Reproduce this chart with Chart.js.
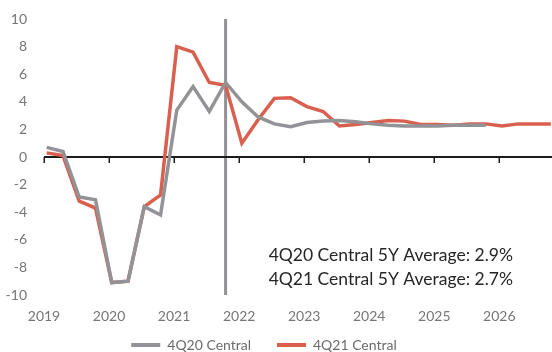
<!DOCTYPE html>
<html>
<head>
<meta charset="utf-8">
<script src="https://cdn.jsdelivr.net/npm/chart.js@4.4.1/dist/chart.umd.min.js"></script>
<style>
  html, body { margin: 0; padding: 0; background: #fff; overflow: hidden; }
  #wrap { width: 552px; height: 352px; }
</style>
</head>
<body>
<div id="wrap"><canvas id="gdp"></canvas></div>
<script>
// quarterly growth (% y/y), first point is 2019 Q1
const firstYear = 2019;
const central4Q20 = [0.7, 0.4, -2.9, -3.1, -9.1, -9.0, -3.6, -4.2,
  3.4, 5.1, 3.3, 5.4, 4.0, 2.9, 2.4, 2.2,
  2.5, 2.6, 2.65, 2.55, 2.4, 2.3, 2.25, 2.25,
  2.25, 2.3, 2.3, 2.3];
const central4Q21 = [0.3, 0.1, -3.2, -3.7, -9.1, -9.0, -3.6, -2.75,
  8.0, 7.6, 5.4, 5.2, 1.0, 2.7, 4.25, 4.3,
  3.65, 3.3, 2.25, 2.35, 2.5, 2.65, 2.6, 2.35,
  2.35, 2.3, 2.4, 2.4, 2.25, 2.4, 2.4, 2.4];
const yearTicks = [2019, 2020, 2021, 2022, 2023, 2024, 2025, 2026];
const forecastQuarter = 11; // 2021 Q4
const averageNotes = ['4Q20 Central 5Y Average: 2.9%', '4Q21 Central 5Y Average: 2.7%'];

const GREY = '#929396';
const RED = '#d9604f';
const FONT = 'Lato, "Open Sans", sans-serif';

// date-axis style: each quarter sits in the middle of its first month
function quarterX(i) {
  return firstYear + (3 * i + 0.5) / 12;
}

function toPoints(values) {
  return values.map((v, i) => ({ x: quarterX(i), y: v }));
}

// zero line with year ticks, the forecast marker and the average notes
const axisLines = {
  id: 'axisLines',
  afterLayout(chart) {
    // pull the legend up under the year labels and centre it under the plot
    const lg = chart.legend;
    lg.top -= 14;
    lg.bottom -= 14;
    lg.left -= 12;
    lg.right -= 12;
  },
  beforeDatasetsDraw(chart) {
    const { ctx, chartArea, scales: { x, y } } = chart;
    const y0 = y.getPixelForValue(0);
    ctx.save();
    ctx.strokeStyle = GREY;
    ctx.lineWidth = 3;
    const fx = x.getPixelForValue(quarterX(forecastQuarter));
    ctx.beginPath();
    ctx.moveTo(fx, chartArea.top);
    ctx.lineTo(fx, chartArea.bottom);
    ctx.stroke();

    ctx.strokeStyle = '#1c1c1c';
    ctx.lineWidth = 2;
    ctx.beginPath();
    ctx.moveTo(chartArea.left, y0);
    ctx.lineTo(chartArea.right, y0);
    ctx.stroke();
    ctx.lineWidth = 1.5;
    yearTicks.forEach(t => {
      const px = Math.round(x.getPixelForValue(t)) + 0.25;
      ctx.beginPath();
      ctx.moveTo(px, y0);
      ctx.lineTo(px, y0 + 6);
      ctx.stroke();
    });
    ctx.restore();
  },
  afterDraw(chart) {
    const { ctx, scales: { x, y } } = chart;
    ctx.save();
    ctx.font = '17.5px ' + FONT;
    ctx.fillStyle = '#262626';
    ctx.textBaseline = 'middle';
    const left = x.getPixelForValue(2022.5) - 3;
    ctx.fillText(averageNotes[0], left, y.getPixelForValue(-7.15));
    ctx.fillText(averageNotes[1], left, y.getPixelForValue(-8.9));
    ctx.restore();
  }
};

new Chart(document.getElementById('gdp'), {
  type: 'line',
  data: {
    datasets: [
      {
        label: '4Q20 Central',
        data: toPoints(central4Q20),
        borderColor: GREY,
        backgroundColor: GREY,
        borderWidth: 3.5,
        pointRadius: 0,
        tension: 0
      },
      {
        label: '4Q21 Central',
        data: toPoints(central4Q21),
        borderColor: RED,
        backgroundColor: RED,
        borderWidth: 3.5,
        pointRadius: 0,
        tension: 0
      }
    ]
  },
  options: {
    responsive: true,
    maintainAspectRatio: false,
    animation: false,
    layout: { padding: { top: 19, right: 0, left: 0, bottom: -24 } },
    scales: {
      x: {
        type: 'linear',
        min: 2019,
        max: 2026.81,
        grid: { display: false, drawTicks: false },
        border: { display: false },
        afterBuildTicks: scale => {
          scale.ticks = yearTicks.map(v => ({ value: v }));
        },
        afterFit: scale => { scale.height = 31; },
        ticks: {
          autoSkip: false,
          maxRotation: 0,
          padding: 13,
          color: '#767676',
          font: { family: FONT, size: 14 },
          callback: v => String(v)
        }
      },
      y: {
        min: -10,
        max: 10,
        grid: { display: false, drawTicks: false },
        border: { display: false },
        afterFit: scale => {
          scale.width = 44;
          scale.paddingTop = 0;
          scale.paddingBottom = 0;
        },
        ticks: {
          stepSize: 2,
          padding: 17,
          color: '#767676',
          font: { family: FONT, size: 14 },
          callback: v => String(v)
        }
      }
    },
    plugins: {
      legend: {
        position: 'bottom',
        labels: {
          boxWidth: 29,
          boxHeight: 4,
          padding: 26,
          color: '#6b6b6b',
          font: { family: FONT, size: 14 },
          generateLabels: chart => {
            const items = Chart.defaults.plugins.legend.labels.generateLabels(chart);
            items.forEach(item => {
              item.lineWidth = 0;
              item.fillStyle = item.strokeStyle;
            });
            return items;
          }
        }
      },
      tooltip: { enabled: false }
    }
  },
  plugins: [axisLines]
});
</script>
</body>
</html>
